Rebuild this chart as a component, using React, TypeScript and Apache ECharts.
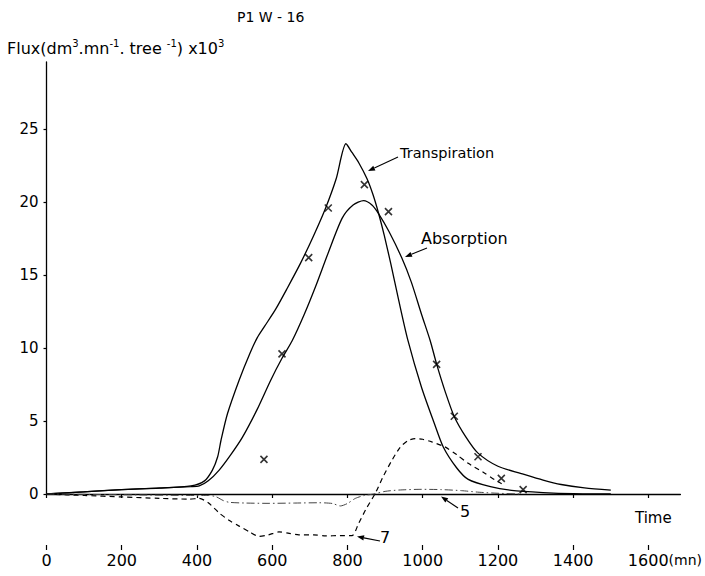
import React, { useEffect, useRef } from "react";
import * as echarts from "echarts";

const FONT = "DejaVu Sans";

const xTicks = [0, 200, 400, 600, 800, 1000, 1200, 1400, 1600];
const yTicks = [0, 5, 10, 15, 20, 25];

const transpiration: [number, number][] = [
  [0, 0.0], [100, 0.15], [200, 0.3], [300, 0.4], [384, 0.55], [420, 0.9],
  [441, 1.64], [455, 2.55], [464, 3.7], [481, 5.5], [512, 7.8], [540, 9.6],
  [560, 10.7], [580, 11.5], [610, 12.7], [640, 14.1], [675, 15.8], [710, 17.7],
  [742, 19.6], [770, 21.6], [796, 24.0], [812, 23.4], [830, 22.7], [852, 21.6],
  [868, 20.5], [883, 19.2], [898, 17.7], [915, 15.8], [936, 13.3], [960, 10.6],
  [997, 7.3], [1030, 4.9], [1055, 3.2], [1090, 1.8], [1121, 1.0], [1180, 0.5],
  [1236, 0.25], [1320, 0.1], [1400, 0.02], [1500, 0.0],
];

const absorption: [number, number][] = [
  [0, 0.0], [200, 0.3], [384, 0.5], [406, 0.55], [430, 0.9], [459, 1.64],
  [490, 2.7], [521, 3.9], [560, 5.8], [596, 7.8], [626, 9.3], [653, 10.5],
  [685, 12.3], [715, 14.2], [750, 16.6], [786, 18.9], [815, 19.8], [843, 20.1],
  [865, 19.8], [883, 19.2], [910, 18.0], [944, 16.2], [970, 14.5], [997, 12.3],
  [1020, 10.5], [1037, 8.9], [1060, 7.0], [1084, 5.3], [1115, 3.9], [1147, 2.8],
  [1200, 1.9], [1262, 1.4], [1320, 0.95], [1368, 0.65], [1430, 0.42], [1500, 0.27],
];

const curve7: [number, number][] = [
  [0, 0.0], [100, -0.1], [200, -0.2], [300, -0.3], [380, -0.35], [406, -0.3],
  [430, -0.6], [459, -1.3], [485, -1.8], [512, -2.2], [540, -2.6], [565, -2.9],
  [590, -2.8], [618, -2.6], [645, -2.7], [671, -2.8], [710, -2.8], [742, -2.87],
  [780, -2.85], [812, -2.85], [830, -2.0], [850, -1.0], [874, 0.05], [895, 1.2],
  [918, 2.3], [940, 3.2], [960, 3.65], [980, 3.8], [1000, 3.75], [1024, 3.57],
  [1059, 3.23], [1090, 2.7], [1121, 2.1], [1160, 1.5], [1192, 0.96], [1210, 0.7],
];

const curve5: [number, number][] = [
  [0, 0.0], [200, -0.05], [400, -0.1], [430, -0.1], [450, -0.18], [470, -0.45],
  [486, -0.57], [530, -0.62], [592, -0.64], [660, -0.62], [724, -0.6], [760, -0.65],
  [781, -0.82], [800, -0.65], [821, -0.3], [845, -0.1], [870, 0.0], [900, 0.18],
  [936, 0.27], [997, 0.32], [1050, 0.3], [1103, 0.23], [1150, 0.12], [1200, 0.05], [1260, 0.0],
];

const measured: [number, number][] = [
  [578, 2.37], [626, 9.6], [697, 16.2], [749, 19.6], [845, 21.2], [909, 19.35],
  [1037, 8.88], [1084, 5.33], [1147, 2.55], [1209, 1.07], [1267, 0.3],
];

function arrow(x1: number, y1: number, x2: number, y2: number, len = 7, half = 2.6) {
  const dx = x2 - x1;
  const dy = y2 - y1;
  const L = Math.hypot(dx, dy);
  const ux = dx / L;
  const uy = dy / L;
  const bx = x2 - ux * len;
  const by = y2 - uy * len;
  const px = -uy;
  const py = ux;
  return [
    { type: "line", shape: { x1, y1, x2: bx, y2: by }, style: { stroke: "#000", lineWidth: 1.1 }, silent: true },
    {
      type: "polygon",
      shape: { points: [[x2, y2], [bx + px * half, by + py * half], [bx - px * half, by - py * half]] },
      style: { fill: "#000" },
      silent: true,
    },
  ];
}

export default function App() {
  const ref = useRef<HTMLDivElement>(null);

  useEffect(() => {
    if (!ref.current) return;
    const chart = echarts.init(ref.current, undefined, { renderer: "svg" });

    const text = (t: string, x: number, y: number, size: number, extra: any = {}) => ({
      type: "text",
      x,
      y,
      silent: true,
      style: { text: t, fill: "#000", font: `${size}px "${FONT}"`, ...extra },
    });

    const option: any = {
      animation: false,
      backgroundColor: "#fff",
      textStyle: { fontFamily: FONT, color: "#000" },
      grid: { left: 46.5, right: 22, top: 62, bottom: 82 },
      xAxis: [
        {
          type: "value",
          min: 0,
          max: 1685,
          position: "bottom",
          axisLine: { show: true, onZero: false, lineStyle: { color: "#000", width: 1.3 } },
          axisTick: { show: true, length: 4, customValues: xTicks, lineStyle: { color: "#000", width: 1.2 } },
          axisLabel: { show: false },
          splitLine: { show: false },
        },
        {
          type: "value",
          min: 0,
          max: 1685,
          position: "bottom",
          offset: 51,
          axisLine: { show: false, onZero: false },
          axisTick: { show: true, length: 5, customValues: xTicks, lineStyle: { color: "#000", width: 1.2 } },
          axisLabel: {
            show: true,
            customValues: xTicks,
            margin: 7,
            fontSize: 16,
            fontFamily: FONT,
            color: "#000",
            formatter: (v: number) => (v === 1600 ? "{p|}1600{u|(mn)}" : v % 200 === 0 ? String(v) : ""),
            rich: {
              p: { width: 33, fontSize: 16, fontFamily: FONT },
              u: { fontSize: 14, fontFamily: FONT, color: "#000" },
            },
          },
          splitLine: { show: false },
        },
      ],
      yAxis: {
        type: "value",
        min: 0,
        max: 29.6,
        axisLine: { show: true, onZero: false, lineStyle: { color: "#000", width: 1.3 } },
        axisTick: { show: true, length: 3, customValues: yTicks, lineStyle: { color: "#000", width: 1.2 } },
        axisLabel: {
          customValues: yTicks,
          margin: 8,
          fontSize: 15,
          fontFamily: FONT,
          color: "#000",
          formatter: (v: number) => (v % 5 === 0 ? String(v) : ""),
        },
        splitLine: { show: false },
      },
      series: [
        {
          name: "Transpiration",
          type: "line",
          data: transpiration,
          symbol: "none",
          smooth: 0.25,
          clip: false,
          lineStyle: { color: "#000", width: 1.3 },
        },
        {
          name: "Absorption",
          type: "line",
          data: absorption,
          symbol: "none",
          smooth: 0.25,
          clip: false,
          lineStyle: { color: "#000", width: 1.3 },
        },
        {
          name: "7",
          type: "line",
          data: curve7,
          symbol: "none",
          smooth: 0.25,
          clip: false,
          lineStyle: { color: "#000", width: 1.2, type: [5, 4] },
        },
        {
          name: "5",
          type: "line",
          data: curve5,
          symbol: "none",
          smooth: 0.25,
          clip: false,
          lineStyle: { color: "#444", width: 1.0, type: [8, 3, 1.5, 3] },
        },
        {
          name: "measured",
          type: "scatter",
          data: measured,
          symbol: "path://M0,0L10,10M10,0L0,10",
          symbolSize: 7,
          itemStyle: { color: "#000", borderColor: "#000", borderWidth: 1.6 },
          z: 5,
        },
      ],
      graphic: [
        text("P1 W - 16", 237, 10, 14),
        {
          type: "text",
          x: 7,
          y: 38,
          silent: true,
          style: {
            text: "{a|Flux(dm}{s|3}{a|.mn}{s|-1}{a|. tree }{s|-1}{a|) x10}{s|3}",
            fill: "#000",
            rich: {
              a: { fontSize: 16, fontFamily: FONT, lineHeight: 20, fill: "#000" },
              s: { fontSize: 10, fontFamily: FONT, lineHeight: 12, verticalAlign: "top", fill: "#000" },
            },
          },
        },
        text("Transpiration", 400, 145, 14.5),
        text("Absorption", 421, 230, 16),
        text("Time", 635, 510, 15),
        text("5", 460, 503, 16),
        text("7", 380, 529, 16),
        ...arrow(398, 157, 368, 171),
        ...arrow(427, 248, 405, 257),
        ...arrow(458, 508, 441, 496.5),
        ...arrow(380, 541, 357, 536.5),
      ],
    };

    chart.setOption(option);
    return () => chart.dispose();
  }, []);

  return (
    <div
      ref={ref}
      style={{ position: "fixed", left: 0, top: 0, width: 705, height: 576, background: "#fff" }}
    />
  );
}
